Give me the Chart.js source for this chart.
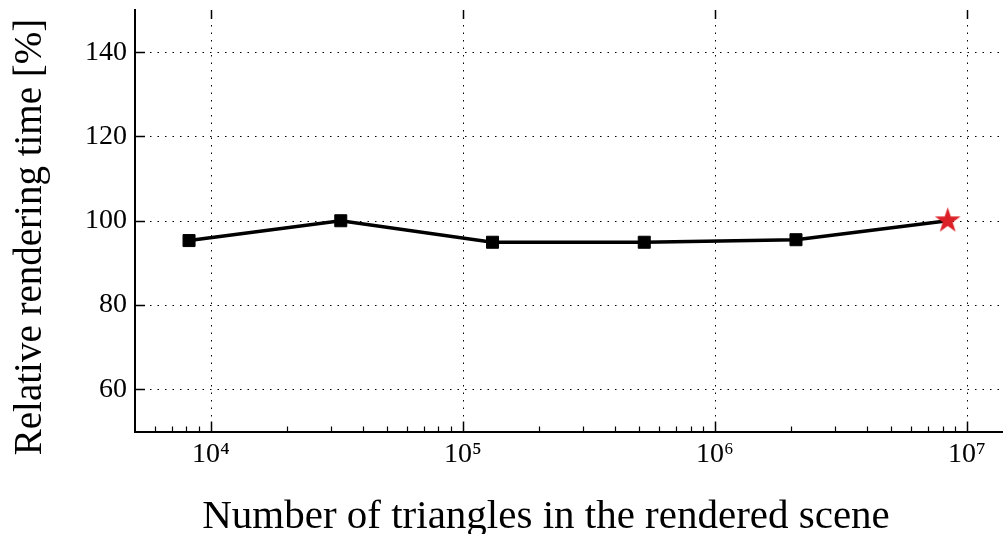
<!DOCTYPE html>
<html lang="en">
<head>
<meta charset="UTF-8" />
<title>Relative rendering time</title>
<script src="https://cdn.jsdelivr.net/npm/chart.js"></script>
<style>
  body { margin: 0; background: white; }
  #chart { display: block; }
</style>
</head>
<body>
<canvas id="chart" width="1003" height="534"></canvas>
<script>
  const triangles = [8192, 32768, 131072, 524288, 2097152, 8388608];
  const relTime = [95.3, 100.0, 94.9, 94.9, 95.5, 100.0];
  const xTicks = [1e4, 1e5, 1e6, 1e7];
  const xTickLabels = ['10⁴', '10⁵', '10⁶', '10⁷'];
  const yTicks = [60, 80, 100, 120, 140];
  const xTitle = 'Number of triangles in the rendered scene';
  const yTitle = 'Relative rendering time [%]';

  const FONT = '"Liberation Serif", "DejaVu Serif", serif';

  // filled 5-point star for the last point (chart.js 'star' is only strokes)
  function makeStar(R, color) {
    const size = Math.ceil(R * 2) + 2;
    const c = document.createElement('canvas');
    c.width = size; c.height = size;
    const g = c.getContext('2d');
    const cx = size / 2, cy = size / 2, r = R * 0.382;
    g.beginPath();
    for (let i = 0; i < 10; i++) {
      const rad = i % 2 ? r : R;
      const a = -Math.PI / 2 + i * Math.PI / 5;
      g.lineTo(cx + rad * Math.cos(a), cy + rad * Math.sin(a));
    }
    g.closePath();
    g.fillStyle = color;
    g.fill();
    return c;
  }
  const star = makeStar(13.5, '#dc2028');

  // minor tick positions, 2..9 per decade inside the axis range
  const minorTicks = [];
  for (let d = 1e3; d <= 1e7; d *= 10) {
    for (let m = 2; m <= 9; m++) {
      const v = m * d;
      if (v > 5000 && v < 1.39e7) minorTicks.push(v);
    }
  }

  // dotted grid, inward tick marks and axis titles, like matplotlib
  const axisDecor = {
    id: 'axisDecor',
    beforeDatasetsDraw(chart) {
      const { ctx, chartArea: a, scales: { x, y } } = chart;
      ctx.save();
      ctx.strokeStyle = '#000';
      ctx.lineWidth = 1;
      ctx.setLineDash([1.5, 6]);
      ctx.beginPath();
      xTicks.forEach(v => {
        const px = Math.round(x.getPixelForValue(v)) + 0.5;
        ctx.moveTo(px, a.top); ctx.lineTo(px, a.bottom);
      });
      yTicks.forEach(v => {
        const py = Math.round(y.getPixelForValue(v)) + 0.5;
        ctx.moveTo(a.left, py); ctx.lineTo(a.right, py);
      });
      ctx.stroke();

      ctx.setLineDash([]);
      ctx.lineWidth = 1.5;
      ctx.beginPath();
      xTicks.forEach(v => {
        const px = Math.round(x.getPixelForValue(v)) + 0.5;
        ctx.moveTo(px, a.bottom); ctx.lineTo(px, a.bottom - 10);
        ctx.moveTo(px, a.top); ctx.lineTo(px, a.top + 9);
      });
      yTicks.forEach(v => {
        const py = Math.round(y.getPixelForValue(v)) + 0.5;
        ctx.moveTo(a.left, py); ctx.lineTo(a.left + 10, py);
      });
      ctx.stroke();

      ctx.lineWidth = 1.2;
      ctx.beginPath();
      minorTicks.forEach(v => {
        const px = Math.round(x.getPixelForValue(v)) + 0.5;
        ctx.moveTo(px, a.bottom); ctx.lineTo(px, a.bottom - 5);
      });
      ctx.stroke();

      ctx.fillStyle = '#000';
      ctx.textAlign = 'center';
      ctx.textBaseline = 'alphabetic';
      ctx.font = '41px ' + FONT;
      ctx.fillText(xTitle, 546, 528);
      ctx.font = '39px ' + FONT;
      ctx.translate(41, 237);
      ctx.rotate(-Math.PI / 2);
      ctx.fillText(yTitle, 0, 0);
      ctx.restore();
    }
  };

  new Chart(document.getElementById('chart'), {
    type: 'line',
    data: {
      datasets: [{
        data: triangles.map((t, i) => ({ x: t, y: relTime[i] })),
        borderColor: '#000',
        borderWidth: 3.5,
        tension: 0,
        pointStyle: triangles.map((t, i) => i === triangles.length - 1 ? star : 'rect'),
        pointRadius: triangles.map((t, i) => i === triangles.length - 1 ? 13 : 8.5),
        pointBackgroundColor: '#000',
        pointBorderColor: '#000',
        pointBorderWidth: 1
      }]
    },
    options: {
      responsive: false,
      animation: false,
      layout: { autoPadding: false, padding: { top: 10, right: 0, left: 0, bottom: 0 } },
      plugins: { legend: { display: false }, tooltip: { enabled: false } },
      scales: {
        x: {
          type: 'logarithmic',
          min: 5000,
          max: 1.39e7,
          afterBuildTicks: s => { s.ticks = xTicks.map(v => ({ value: v })); },
          afterFit: s => {
            s.height = 102.5;
            s.paddingLeft = 0; s.paddingRight = 0;
          },
          grid: { display: false, drawTicks: false },
          border: { color: '#000', width: 2 },
          ticks: {
            callback: (v, i) => xTickLabels[i],
            font: { family: FONT, size: 28 },
            color: '#000',
            padding: 6,
            maxRotation: 0,
            autoSkip: false
          }
        },
        y: {
          min: 50,
          max: 150,
          afterBuildTicks: s => { s.ticks = yTicks.map(v => ({ value: v })); },
          afterFit: s => {
            s.width = 135;
            s.paddingTop = 0; s.paddingBottom = 0;
          },
          grid: { display: false, drawTicks: false },
          border: { color: '#000', width: 2 },
          ticks: {
            font: { family: FONT, size: 28 },
            color: '#000',
            padding: 8
          }
        }
      }
    },
    plugins: [axisDecor]
  });
</script>
</body>
</html>
